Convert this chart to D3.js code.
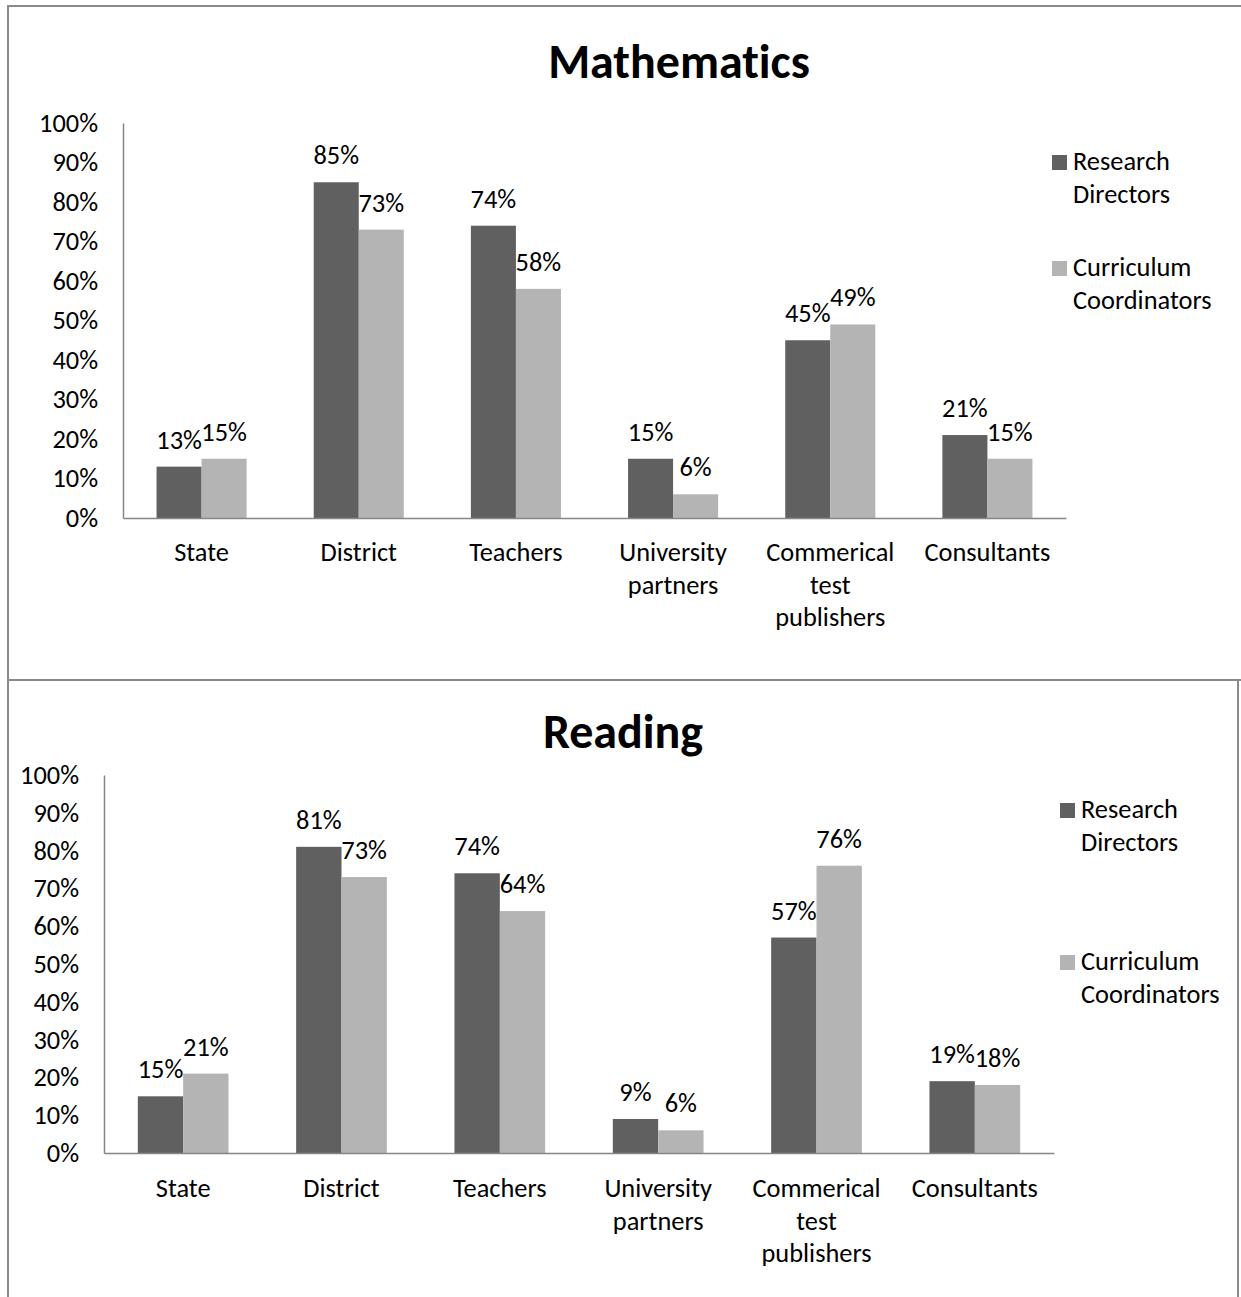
<!DOCTYPE html>
<html>
<head>
<meta charset="utf-8">
<script src="https://cdn.jsdelivr.net/npm/d3@7"></script>
<style>
  html, body { margin: 0; padding: 0; background: #fff; }
  svg { display: block; }
  text { font-family: Carlito, "Open Sans", sans-serif; fill: #000; font-variant-ligatures: none; }
</style>
</head>
<body>
<svg id="chart" width="1241" height="1297"></svg>
<script>
// Who develops the assessments — share of respondents, by subject
const categories = ["State", "District", "Teachers", "University partners", "Commerical test publishers", "Consultants"];
const categoryLines = [["State"], ["District"], ["Teachers"], ["University", "partners"], ["Commerical", "test", "publishers"], ["Consultants"]];
const seriesNames = ["Research Directors", "Curriculum Coordinators"];
const legendLines = [["Research", "Directors"], ["Curriculum", "Coordinators"]];
const mathDirectors = [13, 85, 74, 15, 45, 21];
const mathCoordinators = [15, 73, 58, 6, 49, 15];
const readingDirectors = [15, 81, 74, 9, 57, 19];
const readingCoordinators = [21, 73, 64, 6, 76, 18];
const yTicks = [0, 10, 20, 30, 40, 50, 60, 70, 80, 90, 100];

const colors = ["#606060", "#b4b4b4"];
const FONT = 26.4;

const svg = d3.select("#chart");

function drawPanel(cfg) {
  const g = svg.append("g");

  // panel frame
  g.append("rect")
    .attr("x", cfg.frame[0]).attr("y", cfg.frame[1])
    .attr("width", cfg.frame[2]).attr("height", cfg.frame[3])
    .attr("fill", "#fff").attr("stroke", "#8a8a8a").attr("stroke-width", 2);

  // title
  g.append("text")
    .attr("x", cfg.titleX).attr("y", cfg.titleY)
    .attr("text-anchor", "middle")
    .style("font-size", "48px").style("font-weight", "bold")
    .text(cfg.title);

  const x = d3.scaleBand().domain(categories)
    .range([cfg.left, cfg.right]).paddingInner(0.427).paddingOuter(0.2135);
  const xs = d3.scaleBand().domain([0, 1]).range([0, x.bandwidth()]);
  const y = d3.scaleLinear().domain([0, 100]).range([cfg.bottom, cfg.top]);

  // y axis
  const ya = g.append("g").attr("transform", `translate(${cfg.left},0)`)
    .call(d3.axisLeft(y).tickValues(yTicks).tickSize(0).tickPadding(25).tickFormat(d => d + "%"));
  ya.select(".domain").attr("stroke", "#868686").attr("stroke-width", 1.5);
  ya.selectAll("text").style("font-size", FONT + "px").style("font-family", null)
    .attr("fill", "#000");

  // bars
  const series = [cfg.directors, cfg.coordinators];
  series.forEach((vals, s) => {
    g.append("g").selectAll("rect").data(vals).join("rect")
      .attr("x", (d, i) => x(categories[i]) + xs(s))
      .attr("y", d => y(d))
      .attr("width", xs.bandwidth())
      .attr("height", d => y(0) - y(d))
      .attr("fill", colors[s]);
    g.append("g").selectAll("text").data(vals).join("text")
      .attr("x", (d, i) => x(categories[i]) + xs(s) + xs.bandwidth() / 2)
      .attr("y", d => y(d) - 18)
      .attr("text-anchor", "middle")
      .style("font-size", FONT + "px")
      .text(d => d + "%");
  });

  // x axis
  const xa = g.append("g").attr("transform", `translate(0,${cfg.bottom})`)
    .call(d3.axisBottom(x).tickSize(0).tickFormat(""));
  xa.select(".domain").attr("stroke", "#868686").attr("stroke-width", 1.5);

  const lab = g.append("g").selectAll("text").data(categories).join("text")
    .attr("text-anchor", "middle")
    .style("font-size", FONT + "px")
    .attr("x", d => x(d) + x.bandwidth() / 2)
    .attr("y", cfg.labelY);
  lab.each(function (d, i) {
    d3.select(this).selectAll("tspan").data(categoryLines[i]).join("tspan")
      .attr("x", x(d) + x.bandwidth() / 2)
      .attr("dy", (t, j) => j === 0 ? 0 : 32.5)
      .text(t => t);
  });

  // legend
  seriesNames.forEach((name, s) => {
    const ly = cfg.legendY[s];
    g.append("rect")
      .attr("x", cfg.legendX).attr("y", ly - 15)
      .attr("width", 15).attr("height", 15)
      .attr("fill", colors[s]);
    const t = g.append("text")
      .attr("x", cfg.legendX + 21).attr("y", ly)
      .style("font-size", FONT + "px");
    t.selectAll("tspan").data(legendLines[s]).join("tspan")
      .attr("x", cfg.legendX + 21)
      .attr("dy", (d, j) => j === 0 ? 0 : 33)
      .text(d => d);
  });
}

drawPanel({
  title: "Mathematics",
  frame: [8, 6, 1250, 674],
  titleX: 679, titleY: 78,
  left: 123, right: 1066, top: 123, bottom: 518,
  labelY: 561,
  legendX: 1052, legendY: [170, 276],
  directors: mathDirectors, coordinators: mathCoordinators
});

drawPanel({
  title: "Reading",
  frame: [8, 680, 1230, 640],
  titleX: 623, titleY: 748,
  left: 104, right: 1054, top: 775, bottom: 1153,
  labelY: 1197,
  legendX: 1060, legendY: [818, 970],
  directors: readingDirectors, coordinators: readingCoordinators
});
</script>
</body>
</html>
